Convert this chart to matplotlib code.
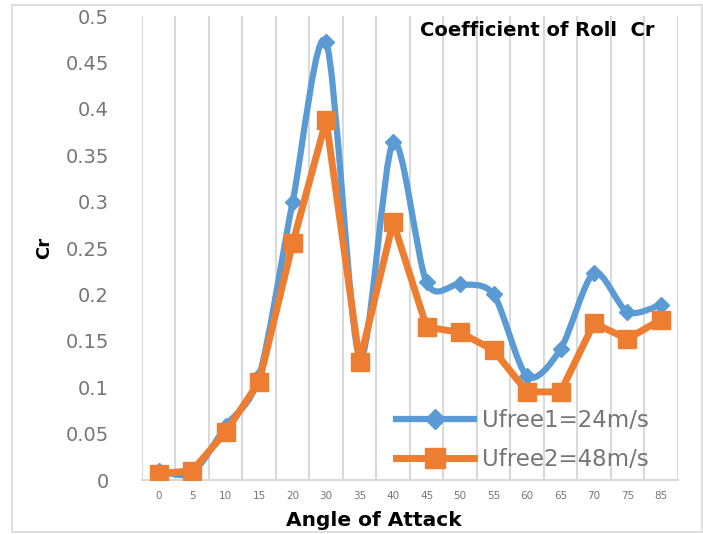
import matplotlib.pyplot as plt
import numpy as np
from matplotlib.path import Path
from matplotlib.patches import PathPatch, Rectangle

angles = ['0', '5', '10', '15', '20', '30', '35', '40', '45', '50', '55', '60', '65', '70', '75', '85']
cr_24 = [0.010, 0.008, 0.058, 0.112, 0.300, 0.472, 0.132, 0.364, 0.213, 0.211, 0.200, 0.112, 0.141, 0.223, 0.181, 0.189]
cr_48 = [0.007, 0.010, 0.052, 0.106, 0.255, 0.388, 0.127, 0.278, 0.165, 0.159, 0.140, 0.095, 0.095, 0.169, 0.152, 0.173]
y_ticks = [0, 0.05, 0.1, 0.15, 0.2, 0.25, 0.3, 0.35, 0.4, 0.45, 0.5]

BLUE = '#5B9BD5'
ORANGE = '#ED7D31'
GREY = '#767676'


def smooth_path(xs, ys, k=7.0):
    # excel style smoothed line: cubic bezier through every point
    pts = np.column_stack([xs, ys])
    verts = [pts[0]]
    codes = [Path.MOVETO]
    n = len(pts)
    for i in range(n - 1):
        p0 = pts[i - 1] if i > 0 else pts[i]
        p1, p2 = pts[i], pts[i + 1]
        p3 = pts[i + 2] if i + 2 < n else pts[i + 1]
        c1 = p1 + (p2 - p0) / k
        c2 = p2 - (p3 - p1) / k
        verts += [c1, c2, p2]
        codes += [Path.CURVE4] * 3
    return Path(verts, codes)


fig = plt.figure(figsize=(7.03, 5.34), dpi=100)
ax = fig.add_axes([0.202, 0.101, 0.762, 0.869])

x = np.arange(len(angles))

ax.add_patch(PathPatch(smooth_path(x, cr_24), facecolor='none', edgecolor=BLUE,
                       lw=4.5, capstyle='round', joinstyle='round', zorder=3))
ax.plot(x, cr_24, ls='none', marker='D', ms=8, color=BLUE, zorder=4)
ax.plot(x, cr_48, color=ORANGE, lw=5, marker='s', ms=13, zorder=5,
        solid_joinstyle='round')

# legend proxies
ax.plot([], [], color=BLUE, lw=4.5, marker='D', ms=10, label='Ufree1=24m/s')
ax.plot([], [], color=ORANGE, lw=5, marker='s', ms=14, label='Ufree2=48m/s')
handles, labels = ax.get_legend_handles_labels()
leg = ax.legend(handles[-2:], labels[-2:], loc='lower right', frameon=False,
                fontsize=16.5, handlelength=3.4, handletextpad=0.35,
                labelspacing=0.7, bbox_to_anchor=(0.985, -0.025), labelcolor=GREY)

ax.set_xlim(-0.5, len(angles) - 0.5)
ax.set_ylim(0, 0.5)
ax.set_yticks(y_ticks)
ax.set_yticklabels([f'{v:g}' for v in y_ticks], color=GREY, fontsize=14)
ax.set_xticks(x)
ax.set_xticklabels(angles, color=GREY, fontsize=7.5)
ax.tick_params(axis='y', length=0, pad=24)
ax.tick_params(axis='x', length=0, pad=8)

for xv in np.arange(-0.5, len(angles), 1.0):
    ax.axvline(xv, color='#D9D9D9', lw=1.5, zorder=1)

for s in ['top', 'right', 'left']:
    ax.spines[s].set_visible(False)
ax.spines['bottom'].set_color('#D9D9D9')
ax.spines['bottom'].set_linewidth(1.5)

ax.set_xlabel('Angle of Attack', fontsize=14.5, fontweight='bold')
ax.xaxis.set_label_coords(0.432, -0.066)
ax.set_ylabel('Cr', fontsize=13, fontweight='bold')
ax.yaxis.set_label_coords(-0.165, 0.5)
ax.text(0.737, 0.968, 'Coefficient of Roll  Cr', transform=ax.transAxes,
        ha='center', va='center', fontsize=14, fontweight='bold')

fig.patches.append(Rectangle((12 / 703, 2 / 534), 690 / 703, 527 / 534,
                             transform=fig.transFigure, fill=False,
                             edgecolor='#D9D9D9', lw=1.2))

fig.savefig('out.png', dpi=100)
